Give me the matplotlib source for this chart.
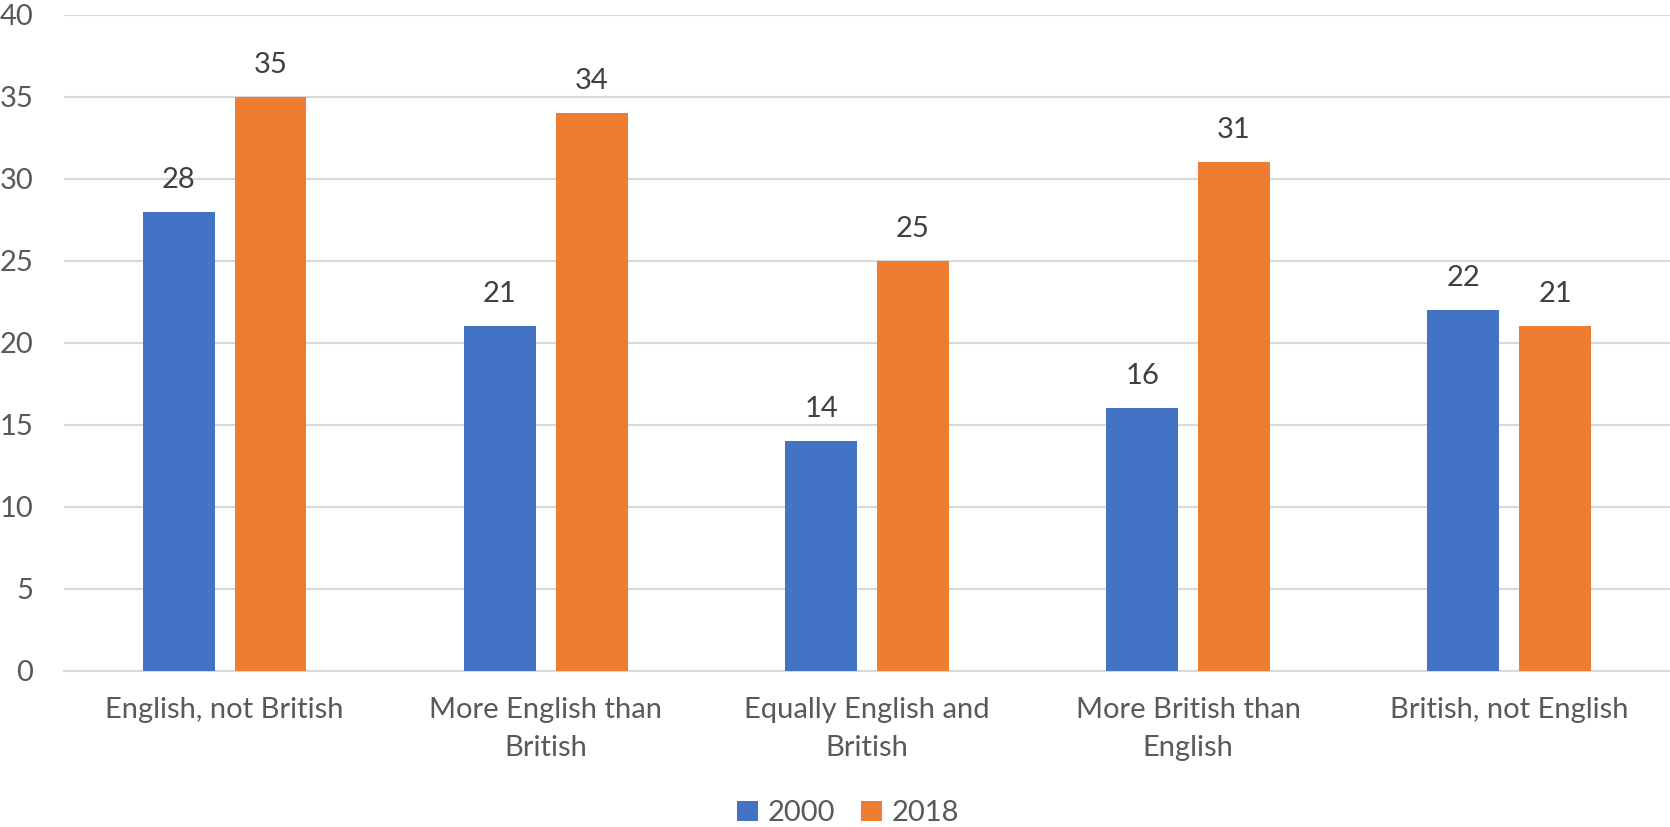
import numpy as np
import matplotlib
matplotlib.use("Agg")
import matplotlib.pyplot as plt

# Data
categories = ["English, not British", "More English than\nBritish",
              "Equally English and\nBritish", "More British than\nEnglish",
              "British, not English"]
series_names = ["2000", "2018"]
values_2000 = [28, 21, 14, 16, 22]
values_2018 = [35, 34, 25, 31, 21]

BLUE = "#4472C4"
ORANGE = "#ED7D31"
GRID = "#D9D9D9"

plt.rcParams['font.family'] = ['Lato', 'DejaVu Sans']

fig = plt.figure(figsize=(16.7, 8.27), dpi=100)
ax = fig.add_axes([0.0383, 0.189, 0.9617, 0.793])

x = np.arange(len(categories))
width = 0.224
offset = 0.143

bars1 = ax.bar(x - offset, values_2000, width, color=BLUE, label=series_names[0], zorder=3)
bars2 = ax.bar(x + offset, values_2018, width, color=ORANGE, label=series_names[1], zorder=3)

# data labels above bars
for bars in (bars1, bars2):
    for b in bars:
        ax.annotate(f"{int(b.get_height())}",
                    xy=(b.get_x() + b.get_width() / 2, b.get_height()),
                    xytext=(0, 23), textcoords="offset points",
                    ha="center", va="center", fontsize=21, color="#404040")

ax.set_xlim(-0.5, len(categories) - 0.5)
ax.set_ylim(0, 40)
ax.set_yticks(range(0, 41, 5))
ax.yaxis.grid(True, color=GRID, linewidth=1.5, zorder=0)
ax.set_axisbelow(True)

for s in ("top", "right", "left"):
    ax.spines[s].set_visible(False)
ax.spines["bottom"].set_color(GRID)
ax.spines["bottom"].set_linewidth(1.5)

ax.set_xticks(x)
ax.set_xticklabels(categories, fontsize=21, color="#595959", linespacing=1.55)
ax.tick_params(axis="x", length=0, pad=19)
ax.tick_params(axis="y", length=0, pad=22, labelsize=21, labelcolor="#595959")

fig.legend(handles=[bars1, bars2], labels=series_names, loc="center",
           bbox_to_anchor=(0.508, 0.017), ncol=2, frameon=False,
           fontsize=21, labelcolor="#595959", handlelength=0.7,
           handleheight=0.7, handletextpad=0.35, columnspacing=0.9)

fig.savefig("out.png", dpi=100)
